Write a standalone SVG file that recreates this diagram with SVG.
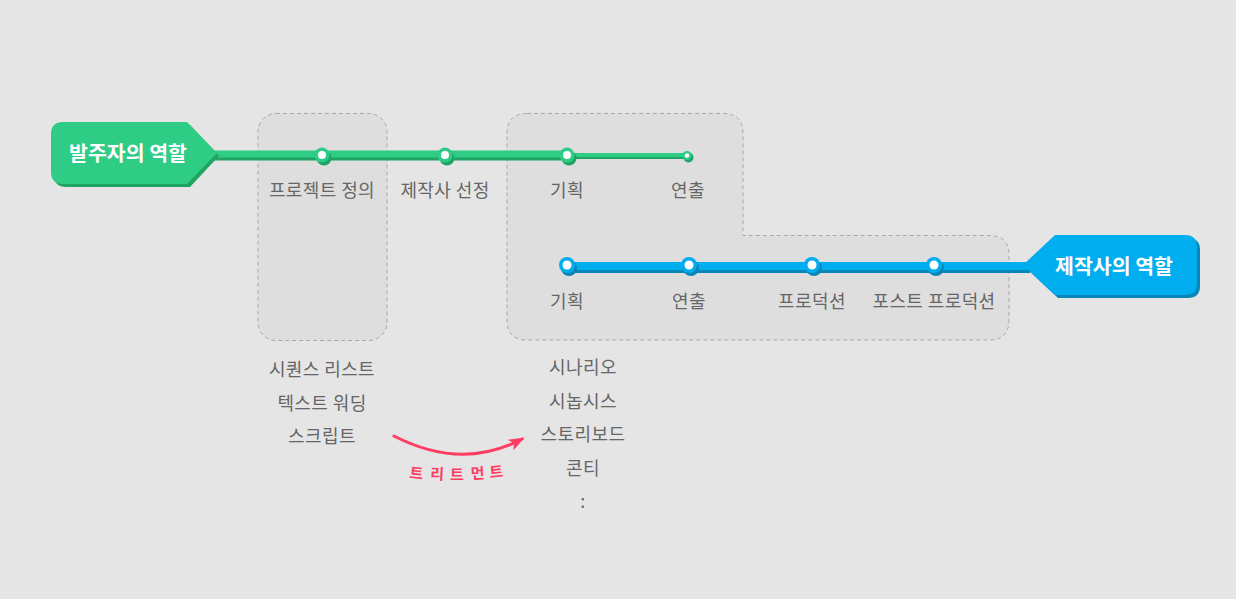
<svg xmlns="http://www.w3.org/2000/svg" width="1236" height="599" viewBox="0 0 1236 599">
<defs>
<style>
.bg{fill:#e5e5e5}
.box{fill:#dedede;stroke:#a9a9a9;stroke-width:1;stroke-dasharray:4 3}
.lbl{font-family:"Noto Sans CJK KR","Noto Sans",sans-serif;font-size:18px;letter-spacing:0.4px;fill:#666;text-anchor:middle}
.tagt{font-family:"Noto Sans CJK KR","Noto Sans",sans-serif;font-size:20.5px;font-weight:700;fill:#fff;text-anchor:middle}
.gl{fill:#2ecc84}
.gd{fill:#1fa463}
.bl{fill:#00aeef}
.bd{fill:#0a86b6}
.w{fill:#fff}
.tr{font-family:"Noto Sans CJK KR","Noto Sans",sans-serif;font-size:15px;font-weight:700;fill:#ff3d63;text-anchor:middle}
</style>
<marker id="ah" viewBox="0 0 16 12" refX="13" refY="6" markerWidth="16" markerHeight="12" markerUnits="userSpaceOnUse" orient="auto">
<path d="M0,0 L16,6 L0,12 L4,6 Z" fill="#ff3d63"/>
</marker>
</defs>
<rect class="bg" x="0" y="0" width="1236" height="599"/>

<g id="zone-client">
<rect class="box" x="258" y="113.5" width="129" height="227" rx="18"/>
</g>
<g id="zone-shared">
<path class="box" d="M527,113.5 H723 Q743,113.5 743,133.5 V235.5 H989 Q1009,235.5 1009,255.5 V320 Q1009,340 989,340 H527 Q507,340 507,320 V133.5 Q507,113.5 527,113.5 Z"/>
</g>

<g id="connectors">
<line x1="210" y1="157" x2="567" y2="157" stroke="#1fa463" stroke-width="7"/>
<line x1="210" y1="154" x2="567" y2="154" stroke="#2ecc84" stroke-width="7"/>
<line x1="567" y1="157" x2="687" y2="157" stroke="#1fa463" stroke-width="4"/>
<line x1="567" y1="155" x2="687" y2="155" stroke="#2ecc84" stroke-width="4"/>
<line x1="567" y1="269" x2="1030" y2="269" stroke="#0a86b6" stroke-width="8"/>
<line x1="567" y1="266" x2="1030" y2="266" stroke="#00aeef" stroke-width="8"/>
<path d="M394,436 Q462,471 522,439" fill="none" stroke="#ff3d63" stroke-width="3" stroke-linecap="round" marker-end="url(#ah)"/>
</g>

<g id="tag-client">
<path class="gd" d="M66,125 H190 L219,156 L190,187 H66 Q54,187 54,175 V137 Q54,125 66,125 Z"/>
<path class="gl" d="M63,122 H187 L217,153 L187,184 H63 Q51,184 51,172 V134 Q51,122 63,122 Z"/>
<text class="tagt" x="128" y="161">발주자의 역할</text>
</g>

<g id="tag-maker">
<path class="bd" d="M1058,238 H1188 Q1200,238 1200,250 V286 Q1200,298 1188,298 H1058 L1026,268 Z"/>
<path class="bl" d="M1055,235 H1185 Q1197,235 1197,247 V283 Q1197,295 1185,295 H1055 L1023,265 Z"/>
<text class="tagt" x="1114" y="274">제작사의 역할</text>
</g>

<g id="node-g1">
<circle class="gd" cx="324" cy="158" r="7.5"/><circle class="gl" cx="322" cy="155" r="7.5"/><circle class="w" cx="322" cy="155" r="4"/>
<text class="lbl" x="322" y="197">프로젝트 정의</text>
</g>
<g id="node-g2">
<circle class="gd" cx="447" cy="158" r="7.5"/><circle class="gl" cx="445" cy="155" r="7.5"/><circle class="w" cx="445" cy="155" r="4"/>
<text class="lbl" x="445" y="197">제작사 선정</text>
</g>
<g id="node-g3">
<circle class="gd" cx="569" cy="158" r="7.5"/><circle class="gl" cx="567" cy="155" r="7.5"/><circle class="w" cx="567" cy="155" r="4"/>
<text class="lbl" x="567" y="197">기획</text>
</g>
<g id="node-g4">
<circle class="gd" cx="688.5" cy="157.5" r="5"/><circle class="gl" cx="687" cy="155.5" r="4.5"/><circle class="w" cx="687" cy="155.5" r="2.2"/>
<text class="lbl" x="688" y="197">연출</text>
</g>

<g id="node-b1">
<circle class="bd" cx="569" cy="268" r="8"/><circle class="bl" cx="567" cy="265" r="8"/><circle class="w" cx="567" cy="265" r="4.5"/>
<text class="lbl" x="567" y="308">기획</text>
</g>
<g id="node-b2">
<circle class="bd" cx="691" cy="268" r="8"/><circle class="bl" cx="689" cy="265" r="8"/><circle class="w" cx="689" cy="265" r="4.5"/>
<text class="lbl" x="689" y="308">연출</text>
</g>
<g id="node-b3">
<circle class="bd" cx="814" cy="268" r="8"/><circle class="bl" cx="812" cy="265" r="8"/><circle class="w" cx="812" cy="265" r="4.5"/>
<text class="lbl" x="812" y="308">프로덕션</text>
</g>
<g id="node-b4">
<circle class="bd" cx="936" cy="268" r="8"/><circle class="bl" cx="934" cy="265" r="8"/><circle class="w" cx="934" cy="265" r="4.5"/>
<text class="lbl" x="934" y="308">포스트 프로덕션</text>
</g>

<g id="list-left">
<text class="lbl" x="322" y="376">시퀀스 리스트</text>
<text class="lbl" x="322" y="410">텍스트 워딩</text>
<text class="lbl" x="322" y="443">스크립트</text>
</g>
<g id="list-right">
<text class="lbl" x="583" y="374">시나리오</text>
<text class="lbl" x="583" y="408">시놉시스</text>
<text class="lbl" x="583" y="441">스토리보드</text>
<text class="lbl" x="583" y="475">콘티</text>
<text class="lbl" x="583" y="508">:</text>
</g>

<g id="treatment-label">
<text class="tr" x="416 437 457 478 497" y="478 479 480 479 478" rotate="6 3 0 -3 -6">트리트먼트</text>
</g>
</svg>
